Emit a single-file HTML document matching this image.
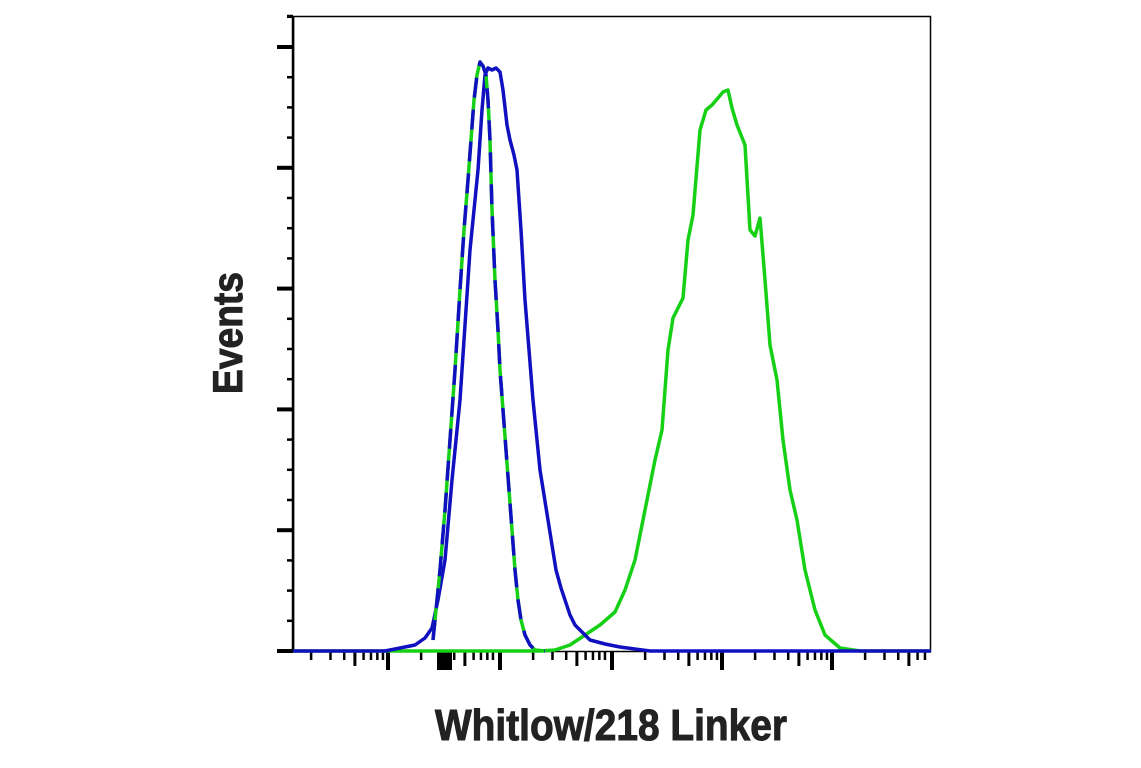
<!DOCTYPE html>
<html><head><meta charset="utf-8"><style>body{margin:0;background:#fff}svg{display:block}</style></head>
<body>
<svg width="1141" height="768" viewBox="0 0 1141 768" xmlns="http://www.w3.org/2000/svg">
<g id="ticks" stroke="#000"></g>
<rect x="293.5" y="16.5" width="637" height="635" fill="none" stroke="#000" stroke-width="1.5"/>
<line x1="293" y1="16" x2="293" y2="652" stroke="#000" stroke-width="2.5"/>
<g fill="none" stroke-width="3.5" stroke-linejoin="round">
<polyline stroke="#16d016" points="293,651 540,651 555,650 570,645 585,635 600,625 615,612 625,590 635,560 645,510 655,460 662,430 668,350 673,318 678,308 683,298 688,240 693,215 700,130 706,110 712,105 718,98 723,92 728,90 732,108 737,125 745,145 750,230 755,236 760,218 765,280 770,345 777,380 783,440 790,490 797,520 805,570 815,610 825,635 840,648 860,651 931,651"/>
<polyline stroke="#1010c0" points="293,651 385,651 400,648 415,645 425,638 432,628 438,600 445,560 452,480 460,400 466,310 470,250 475,200 478,170 482,110 485,75 488,68 492,70 496,68 500,72 503,90 507,125 510,140 514,155 517,170 521,230 525,300 529,350 533,400 537,440 540,470 544,495 548,520 552,545 556,570 561,588 565,600 570,615 575,625 582,632 590,640 605,644 620,647 650,651 931,651"/>
<polyline stroke="#16d016" points="433,640 440,570 445,510 450,440 455,370 460,290 464,230 468,180 471,140 474,100 477,75 480,62 483,66 486,75 488,100 490,140 492,210 495,280 498,330 500,370 503,410 506,450 509,490 512,530 515,570 518,600 521,620 525,635 530,645 535,650 545,651"/>
<polyline stroke="#1010c0" stroke-dasharray="20 12" points="433,640 440,570 445,510 450,440 455,370 460,290 464,230 468,180 471,140 474,100 477,75 480,62 483,66 486,75 488,100 490,140 492,210 495,280 498,330 500,370 503,410 506,450 509,490 512,530 515,570 518,600 521,620 525,635 530,645 535,650 545,651"/>
</g>
<text x="0" y="0" transform="translate(242,333) rotate(-90)" text-anchor="middle" font-family="Liberation Sans, sans-serif" font-weight="bold" font-size="42" textLength="122" lengthAdjust="spacingAndGlyphs" fill="#222" stroke="#222" stroke-width="1">Events</text>
<text x="611" y="740" text-anchor="middle" font-family="Liberation Sans, sans-serif" font-weight="bold" font-size="44" textLength="352" lengthAdjust="spacingAndGlyphs" fill="#222" stroke="#222" stroke-width="1">Whitlow/218 Linker</text>
</svg>
<script>
var g=document.getElementById('ticks'),s='';
for(var i=0;i<=21;i++){var y=651-i*30.2;if(y<16)break;var maj=(i%4==0);
s+='<line x1="'+(maj?277:287)+'" x2="293" y1="'+y+'" y2="'+y+'" stroke-width="'+(maj?4:2.5)+'"/>';}
s+='<line x1="287" x2="293" y1="16" y2="16" stroke-width="2.5"/>';
var D=[168,278,388,500,612,722,832,942];
D.forEach(function(d){for(var k=1;k<=9;k++){var x=d+110*Math.log10(k);if(x<296||x>929)continue;
var len=k==1?18:(k==5?14:8);var w=k==1?4:(k==5?3:2.5);
s+='<line x1="'+x+'" x2="'+x+'" y1="652" y2="'+(652+len)+'" stroke-width="'+w+'"/>';}});
s+='<rect x="437" y="652" width="15" height="18" fill="#000" stroke="none"/>';
g.innerHTML=s;
</script>
</body></html>
